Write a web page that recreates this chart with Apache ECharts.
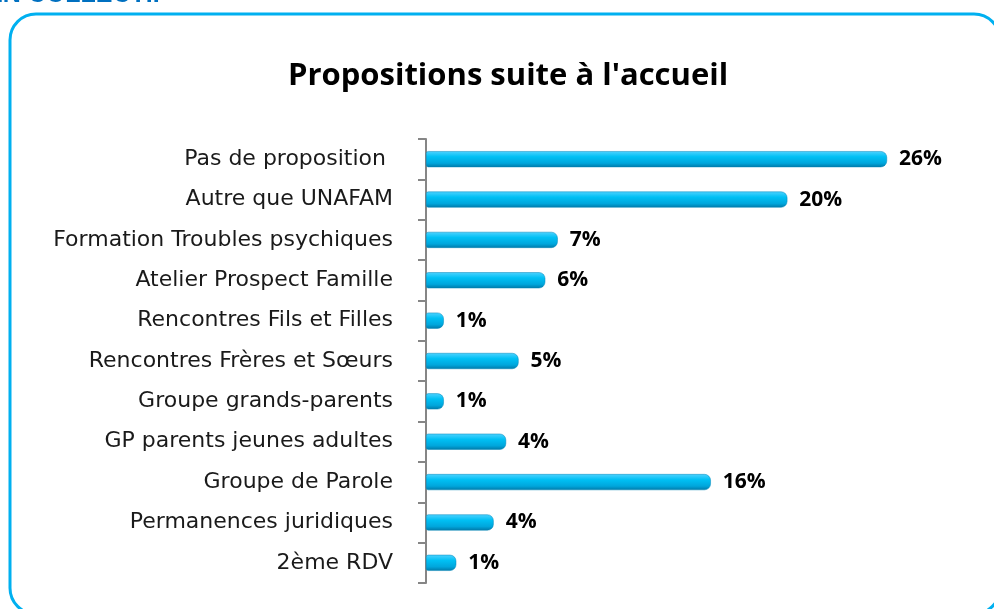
<!DOCTYPE html>
<html>
<head>
    <meta charset="utf-8">
    <title>Propositions suite à l'accueil</title>
    <style type="text/css">
        html, body { margin: 0; padding: 0; background: #fff; }
        #main { width: 994px; height: 609px; }
    </style>
    <script src="https://cdn.jsdelivr.net/npm/echarts@6/dist/echarts.min.js"></script>
</head>
<body>
    <div id="main"></div>
    <script type="text/javascript">
// categories, top to bottom as in the picture
var categories = [
    'Pas de proposition ',
    'Autre que UNAFAM',
    'Formation Troubles psychiques',
    'Atelier Prospect Famille',
    'Rencontres Fils et Filles',
    'Rencontres Frères et Sœurs',
    'Groupe grands-parents',
    'GP parents jeunes adultes',
    'Groupe de Parole',
    'Permanences juridiques',
    '2ème RDV'
];
// bar lengths (%)
var values = [25.9, 20.3, 7.4, 6.7, 1.0, 5.2, 1.0, 4.5, 16.0, 3.8, 1.7];
// labels printed at the end of the bars
var pctLabels = ['26%', '20%', '7%', '6%', '1%', '5%', '1%', '4%', '16%', '4%', '1%'];

var myChart = echarts.init(document.getElementById('main'));

var option = {
    animation: false,
    backgroundColor: '#fff',
    title: {
        text: "Propositions suite à l'accueil",
        left: 283,
        top: 56,
        textStyle: {
            fontFamily: 'Open Sans',
            fontWeight: 'bold',
            fontSize: 31,
            color: '#000'
        }
    },
    graphic: [
        {
            type: 'rect',
            shape: { x: 10, y: 14, width: 990, height: 600, r: 26 },
            style: { fill: 'none', stroke: '#00b0f0', lineWidth: 3 }
        },
        {
            type: 'text',
            left: -14,
            top: -17,
            style: {
                text: 'EN COLLECTIF',
                fill: '#0070c0',
                font: 'bold 25px "Liberation Sans"'
            }
        }
    ],
    grid: {
        top: 139,
        bottom: 26,
        left: 426,
        right: 34,
        containLabel: false
    },
    xAxis: {
        type: 'value',
        min: 0,
        max: 30,
        show: false
    },
    yAxis: {
        type: 'category',
        inverse: true,
        data: categories,
        offset: 7,
        axisLine: { show: true, lineStyle: { color: '#868686', width: 2 } },
        axisTick: { show: true, length: 8, lineStyle: { color: '#868686', width: 2 } },
        axisLabel: {
            margin: 26,
            padding: [4, 0, 0, 0],
            fontFamily: 'DejaVu Sans',
            fontSize: 22,
            color: '#1a1a1a'
        },
        splitLine: { show: false }
    },
    series: [{
        type: 'bar',
        data: values,
        barWidth: 16,
        itemStyle: {
            borderRadius: [2, 6, 6, 2],
            color: new echarts.graphic.LinearGradient(0, 0, 0, 1, [
                { offset: 0, color: '#4fd2ff' },
                { offset: 0.35, color: '#00c0f4' },
                { offset: 0.75, color: '#00a6dc' },
                { offset: 1, color: '#0079a8' }
            ]),
            borderColor: '#0086b8',
            borderWidth: 0.5
        },
        label: {
            show: true,
            position: 'right',
            distance: 12,
            padding: [4, 0, 0, 0],
            fontFamily: 'Open Sans',
            fontWeight: 'bold',
            fontSize: 21,
            color: '#000',
            formatter: function (p) {
                return pctLabels[p.dataIndex];
            }
        }
    }]
};

myChart.setOption(option);
    </script>
</body>
</html>
